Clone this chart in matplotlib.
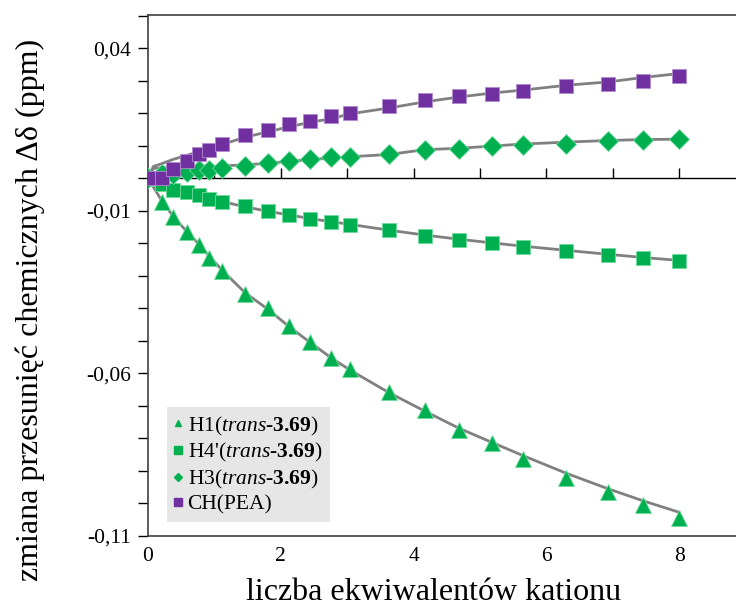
import matplotlib
matplotlib.use("Agg")
import matplotlib.pyplot as plt
from matplotlib.lines import Line2D
from matplotlib.ticker import FixedLocator, FuncFormatter, MultipleLocator

plt.rcParams['font.family'] = ['Liberation Serif', 'DejaVu Serif']
plt.rcParams['mathtext.fontset'] = 'custom'
plt.rcParams['mathtext.rm'] = 'Liberation Serif'
plt.rcParams['mathtext.it'] = 'Liberation Serif:italic'
plt.rcParams['mathtext.bf'] = 'Liberation Serif:bold'

# equivalents of added cation
equiv = [0.0, 0.21, 0.38, 0.58, 0.77, 0.92, 1.12, 1.46, 1.81, 2.12, 2.44,
         2.76, 3.04, 3.63, 4.17, 4.69, 5.18, 5.64, 6.30, 6.92, 7.46, 8.0]

# measured chemical shift changes (ppm)
h1 = [0.0, -0.0072, -0.0118, -0.0165, -0.0205, -0.0245, -0.0285, -0.0356,
      -0.0399, -0.0455, -0.0504, -0.0553, -0.0587, -0.0658, -0.0714, -0.0775,
      -0.0816, -0.0865, -0.0921, -0.0967, -0.1007, -0.1044]
h4p = [0.0, -0.0017, -0.0036, -0.0043, -0.0053, -0.0064, -0.0072, -0.0087,
       -0.0102, -0.0112, -0.0125, -0.0135, -0.0143, -0.0159, -0.0177, -0.0189,
       -0.0199, -0.0211, -0.0225, -0.0236, -0.0246, -0.0254]
h3 = [0.0, 0.0012, 0.0012, 0.0018, 0.0024, 0.0026, 0.0031, 0.0039, 0.0047,
      0.0054, 0.0058, 0.0065, 0.0065, 0.0075, 0.0086, 0.0091, 0.0098, 0.0101,
      0.0106, 0.0114, 0.0118, 0.0121]
ch_pea = [0.0, 0.0, 0.0029, 0.0052, 0.0073, 0.0088, 0.0104, 0.0132, 0.0149,
          0.0168, 0.0176, 0.0190, 0.0202, 0.0222, 0.0240, 0.0253, 0.0260,
          0.0268, 0.0283, 0.0291, 0.0299, 0.0314]

# fitted binding curves
fit_h1 = [0.0, -0.0070, -0.0118, -0.0163, -0.0204, -0.0240, -0.0284, -0.0352,
          -0.0404, -0.0456, -0.0505, -0.0553, -0.0590, -0.0660, -0.0717,
          -0.0770, -0.0813, -0.0853, -0.0908, -0.0955, -0.0993, -0.1028]
fit_h4p = [0.0, -0.0018, -0.0030, -0.0043, -0.0054, -0.0062, -0.0072, -0.0088,
           -0.0102, -0.0113, -0.0124, -0.0134, -0.0142, -0.0160, -0.0175,
           -0.0188, -0.0199, -0.0209, -0.0222, -0.0234, -0.0244, -0.0253]
fit_equiv_up = [0.0, 0.08] + equiv[1:]
fit_h3 = [0.0, 0.0030, 0.0032, 0.0033, 0.0034, 0.0035, 0.0036, 0.0038, 0.0041,
          0.0046, 0.0052, 0.0057, 0.0062, 0.0066, 0.0073, 0.0088, 0.0092,
          0.0099, 0.0105, 0.0111, 0.0116, 0.0119, 0.0120]
fit_ch = [0.0, 0.0036, 0.0045, 0.0058, 0.0070, 0.0082, 0.0092, 0.0104, 0.0126,
          0.0143, 0.0158, 0.0172, 0.0183, 0.0198, 0.0216, 0.0235, 0.0250,
          0.0262, 0.0271, 0.0286, 0.0296, 0.0310, 0.0322]

labels = [r'H1($\mathit{trans}$-$\mathbf{3.69}$)',
          r"H4'($\mathit{trans}$-$\mathbf{3.69}$)",
          r'H3($\mathit{trans}$-$\mathbf{3.69}$)',
          'CH(PEA)']

green = '#00B050'
purple = '#7030A0'
fit_color = '#808080'

fig = plt.figure(figsize=(7.36, 6.06), dpi=100)
ax = fig.add_axes([0.2011, 0.116, 0.812, 0.8597])

for xs, ys in [(equiv, fit_h1), (equiv, fit_h4p),
               (fit_equiv_up, fit_h3), (fit_equiv_up, fit_ch)]:
    ax.plot(xs, ys, color=fit_color, lw=2.0, zorder=2, solid_capstyle='round')

ax.plot(equiv, h1, ls='none', marker='^', ms=11, color=green,
        mec='#6fdc9c', mew=0.6, zorder=3)
ax.plot(equiv, h4p, ls='none', marker='s', ms=10.5, color=green,
        mec='#6fdc9c', mew=0.6, zorder=3)
ax.plot(equiv, h3, ls='none', marker='D', ms=10, color=green,
        mec='#6fdc9c', mew=0.6, zorder=3)
ax.plot(equiv, ch_pea, ls='none', marker='s', ms=10.5, color=purple,
        mec='#b08ad0', mew=0.6, zorder=4)

ax.set_xlim(0, 9)
ax.set_ylim(-0.11, 0.0503)

# y axis: ticks every 0.01, labels every 0.05
ax.yaxis.set_major_locator(MultipleLocator(0.01))


def ylab(v, pos):
    k = int(round(v * 100))
    if (k - 4) % 5 == 0:
        return f'{v:.2f}'.replace('.', ',').replace('\u2212', '-')
    return ''


ax.yaxis.set_major_formatter(FuncFormatter(ylab))
ax.tick_params(axis='y', direction='out', length=7, width=1, labelsize=15.5,
               pad=5, colors='#000000')

# x labels at the bottom edge, tick marks on the zero line
ax.xaxis.set_major_locator(FixedLocator([0, 2, 4, 6, 8]))
ax.tick_params(axis='x', length=0, labelsize=15.5, pad=8)

zero_axis = ax.secondary_xaxis(0, transform=ax.transData)
zero_axis.xaxis.set_major_locator(MultipleLocator(1))
zero_axis.tick_params(axis='x', direction='in', length=7, width=1,
                      labelbottom=False, color='#000000')
zero_axis.spines['bottom'].set_linewidth(1.0)

for side in ['left', 'bottom', 'top']:
    ax.spines[side].set_linewidth(1.2)
    ax.spines[side].set_color('#404040')
ax.spines['right'].set_visible(False)

ax.set_xlabel('liczba ekwiwalentów kationu', fontsize=23)
ax.xaxis.set_label_coords(0.477, -0.082)
ax.set_ylabel('zmiana przesunięć chemicznych Δδ (ppm)', fontsize=23)
ax.yaxis.set_label_coords(-0.172, 0.433)

handles = [
    Line2D([], [], ls='none', marker='^', ms=5, color=green),
    Line2D([], [], ls='none', marker='s', ms=6, color=green),
    Line2D([], [], ls='none', marker='D', ms=4, color=green),
    Line2D([], [], ls='none', marker='s', ms=6, color=purple),
]
leg = ax.legend(handles, labels, loc='lower left',
                bbox_to_anchor=(0.032, 0.026), borderaxespad=0,
                fontsize=15.5, frameon=True, fancybox=False,
                facecolor='#e6e6e6', edgecolor='none', framealpha=1,
                handlelength=0.3, handletextpad=0.3, labelspacing=0.17,
                borderpad=0.35)

fig.savefig('out.png', dpi=100)
